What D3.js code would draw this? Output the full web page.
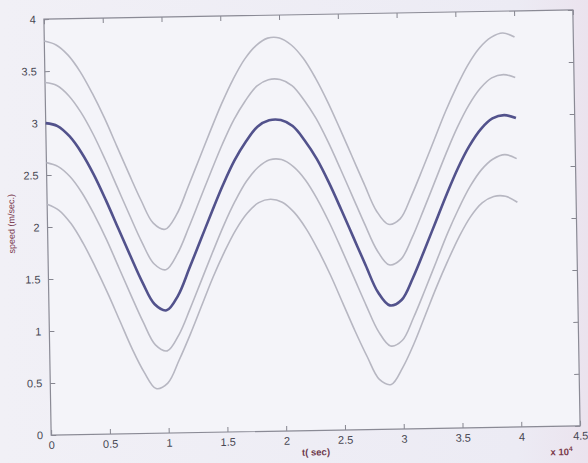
<!DOCTYPE html>
<meta charset="utf-8" />
<script src="https://d3js.org/d3.v7.min.js"></script>
<style>
    body { margin: 0; background: #eeedf5; }
</style>
<div id="my_dataviz"></div>

<script>
    // time in units of 1e4 sec
    const tVals = [0, 0.1, 0.2, 0.3, 0.4, 0.5, 0.6, 0.7, 0.8, 0.9, 1.0, 1.1, 1.2, 1.3, 1.4, 1.5, 1.6, 1.7, 1.8, 1.9, 2.0,
        2.1, 2.2, 2.3, 2.4, 2.5, 2.6, 2.7, 2.8, 2.9, 3.0, 3.1, 3.2, 3.3, 3.4, 3.5, 3.6, 3.7, 3.8, 3.9, 4.0]

    const topBand = [3.79, 3.75, 3.65, 3.49, 3.28, 3.04, 2.77, 2.50, 2.24, 2.02, 1.96, 2.10, 2.36, 2.63, 2.90, 3.16, 3.39, 3.58, 3.71, 3.78, 3.78,
        3.71, 3.58, 3.39, 3.16, 2.90, 2.63, 2.36, 2.10, 1.97, 2.02, 2.24, 2.50, 2.77, 3.04, 3.28, 3.49, 3.65, 3.75, 3.79, 3.75]
    const upperBand = [3.39, 3.36, 3.26, 3.10, 2.89, 2.64, 2.37, 2.10, 1.84, 1.63, 1.57, 1.72, 1.97, 2.24, 2.51, 2.77, 3.00, 3.18, 3.32, 3.38, 3.38,
        3.32, 3.18, 3.00, 2.77, 2.51, 2.24, 1.97, 1.72, 1.58, 1.63, 1.84, 2.10, 2.37, 2.64, 2.89, 3.10, 3.26, 3.36, 3.39, 3.36]
    const speed = [3.00, 2.97, 2.87, 2.71, 2.50, 2.25, 1.98, 1.71, 1.45, 1.24, 1.18, 1.32, 1.58, 1.85, 2.12, 2.38, 2.61, 2.79, 2.93, 2.99, 2.99,
        2.93, 2.79, 2.61, 2.38, 2.12, 1.85, 1.58, 1.32, 1.19, 1.24, 1.45, 1.71, 1.98, 2.25, 2.50, 2.71, 2.87, 2.97, 3.00, 2.97]
    const lowerBand = [2.62, 2.58, 2.48, 2.32, 2.11, 1.87, 1.60, 1.33, 1.07, 0.85, 0.79, 0.94, 1.19, 1.46, 1.73, 1.99, 2.22, 2.41, 2.54, 2.61, 2.61,
        2.54, 2.41, 2.22, 1.99, 1.73, 1.46, 1.19, 0.94, 0.80, 0.85, 1.07, 1.33, 1.60, 1.87, 2.11, 2.32, 2.48, 2.58, 2.62, 2.58]
    const bottomBand = [2.22, 2.16, 2.03, 1.84, 1.61, 1.36, 1.09, 0.82, 0.59, 0.43, 0.48, 0.70, 0.95, 1.22, 1.49, 1.73, 1.94, 2.10, 2.20, 2.23, 2.20,
        2.10, 1.94, 1.73, 1.49, 1.22, 0.95, 0.70, 0.48, 0.43, 0.59, 0.82, 1.09, 1.36, 1.61, 1.84, 2.03, 2.16, 2.22, 2.22, 2.16]

    const xTicks = [0, 0.5, 1, 1.5, 2, 2.5, 3, 3.5, 4, 4.5]
    const yTicks = [0, 0.5, 1, 1.5, 2, 2.5, 3, 3.5, 4]

    // set the dimensions and margins of the graph
    const margin = { top: 14.5, right: 11.5, bottom: 32.5, left: 47.5 },
        width = 588 - margin.left - margin.right,
        height = 463 - margin.top - margin.bottom

    const svg = d3
        .select('#my_dataviz')
        .append('svg')
        .attr('width', 588)
        .attr('height', 463)

    // photographed paper background
    const grad = svg.append('defs').append('linearGradient').attr('id', 'paper')
    grad.append('stop').attr('offset', '0%').attr('stop-color', '#f1f0f6')
    grad.append('stop').attr('offset', '88%').attr('stop-color', '#ecebf4')
    grad.append('stop').attr('offset', '100%').attr('stop-color', '#ebe3ee')
    svg.append('rect').attr('width', 588).attr('height', 463).attr('fill', 'url(#paper)')

    // the page is slightly tilted in the photo
    const g = svg
        .append('g')
        .attr('transform', 'rotate(-1,312,222.5)')
        .append('g')
        .attr('transform', `translate(${margin.left},${margin.top})`)

    const x = d3.scaleLinear().domain([0, 4.5]).range([0, width])
    const y = d3.scaleLinear().domain([0, 4]).range([height, 0])

    g.append('rect')
        .attr('width', width)
        .attr('height', height)
        .attr('fill', '#f4f4f9')

    const tickColor = '#85858f'
    const labelColor = '#474752'
    const fmt = d3.format('~g')

    function styleAxis(sel) {
        sel.select('.domain').remove()
        sel.selectAll('line').attr('stroke', tickColor)
        sel.selectAll('text')
            .attr('fill', labelColor)
            .attr('font-family', 'Liberation Sans, Arial, sans-serif')
            .attr('font-size', '11px')
    }

    // bottom axis with labels
    g.append('g')
        .attr('transform', `translate(0,${height})`)
        .call(d3.axisBottom(x).tickValues(xTicks).tickFormat(fmt).tickSize(-5).tickPadding(6))
        .call(styleAxis)
    // left axis with labels
    g.append('g')
        .call(d3.axisLeft(y).tickValues(yTicks).tickFormat(fmt).tickSize(-5).tickPadding(8))
        .call(styleAxis)
    // top and right: ticks only
    g.append('g')
        .call(d3.axisTop(x).tickValues(xTicks).tickSize(-5).tickFormat(''))
        .call(styleAxis)
    g.append('g')
        .attr('transform', `translate(${width},0)`)
        .call(d3.axisRight(y).tickValues(yTicks).tickSize(-5).tickFormat(''))
        .call(styleAxis)

    // box
    g.append('rect')
        .attr('width', width)
        .attr('height', height)
        .attr('fill', 'none')
        .attr('stroke', '#8a8a95')
        .attr('stroke-width', 1.2)

    const line = d3
        .line()
        .x((d) => x(d[0]))
        .y((d) => y(d[1]))
        .curve(d3.curveCatmullRom)

    const bands = [topBand, upperBand, lowerBand, bottomBand]
    bands.forEach((s) => {
        g.append('path')
            .datum(tVals.map((t, i) => [t, s[i]]))
            .attr('fill', 'none')
            .attr('stroke', '#b7b7c2')
            .attr('stroke-width', 1.6)
            .attr('d', line)
    })

    g.append('path')
        .datum(tVals.map((t, i) => [t, speed[i]]))
        .attr('fill', 'none')
        .attr('stroke', '#52528c')
        .attr('stroke-width', 2.6)
        .attr('d', line)

    // axis labels
    g.append('text')
        .attr('x', width / 2)
        .attr('y', height + 25)
        .attr('text-anchor', 'middle')
        .attr('font-family', 'Liberation Sans, Arial, sans-serif')
        .attr('font-size', '9.5px')
        .attr('font-weight', 'bold')
        .attr('fill', '#6e3a4e')
        .text('t( sec)')

    const mult = g.append('text')
        .attr('x', width - 30)
        .attr('y', height + 29)
        .attr('font-family', 'Liberation Sans, Arial, sans-serif')
        .attr('font-size', '9.5px')
        .attr('font-weight', 'bold')
        .attr('fill', '#7a3a4a')
    mult.append('tspan').text('x 10')
    mult.append('tspan').attr('dy', -4).attr('font-size', '6.5px').text('4')

    g.append('text')
        .attr('transform', `translate(-33,${height / 2 - 4}) rotate(-90)`)
        .attr('text-anchor', 'middle')
        .attr('font-family', 'Liberation Sans, Arial, sans-serif')
        .attr('font-size', '9px')
        .attr('fill', '#7a3a4e')
        .text('speed (m/sec.)')
</script>
